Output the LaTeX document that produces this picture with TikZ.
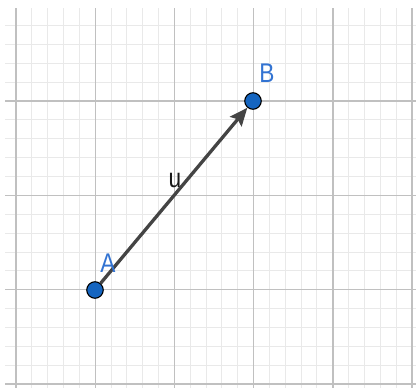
\documentclass[tikz,border=0pt]{standalone}
\usepackage{fontspec}
\setmainfont{Liberation Sans}
\usetikzlibrary{arrows.meta}
\definecolor{ptblue}{RGB}{21,101,192}
\definecolor{lblblue}{RGB}{50,115,210}
\definecolor{majorc}{RGB}{192,192,192}
\definecolor{minorc}{RGB}{233,233,233}
\definecolor{vecc}{RGB}{68,68,68}
\newcommand\sqz[1]{\scalebox{0.84}[1]{#1}}
\tikzset{
  minorline/.style={draw=minorc, line width=1pt},
  majorline/.style={draw=majorc, line width=1.4pt},
  ptnode/.style={circle, fill=ptblue, draw=black, line width=1.1pt, minimum size=16.5pt, inner sep=0pt},
  lbl/.style={text=lblblue, font=\fontsize{27}{27}\selectfont, inner sep=0pt},
  vlbl/.style={text=black!90, font=\fontsize{27}{27}\selectfont, inner sep=0pt},
  vecline/.style={draw=vecc, line width=3.3pt, -{Stealth[length=18pt,width=15pt,inset=3pt]}}
}
\begin{document}
\begin{tikzpicture}[x=1pt,y=-1pt]
\useasboundingbox (0,0) rectangle (416,388);
\fill[white] (0,0) rectangle (416,388);
\begin{scope}
  \clip (5,8) rectangle (416,388);
  \foreach \i in {0,...,26} \draw[minorline] ({16+15.84*\i},0) -- ({16+15.84*\i},388);
  \foreach \j in {0,...,21} \draw[minorline] (0,{6.7+18.87*\j}) -- (416,{6.7+18.87*\j});
  \foreach \i in {0,...,5} \draw[majorline] ({16+79.2*\i},0) -- ({16+79.2*\i},388);
  \foreach \j in {0,...,4} \draw[majorline] (0,{6.7+94.33*\j}) -- (416,{6.7+94.33*\j});
\end{scope}
\node[ptnode] (A) at (95,290) {};
\node[ptnode] (B) at (253,101) {};
\draw[vecline] (A) -- (B);
\node[lbl] (la) at (108,263) {\sqz{A}};
\node[lbl] (lb) at (267,73) {\sqz{B}};
\node[vlbl] (lu) at (175,180) {\sqz{u}};
\end{tikzpicture}
\end{document}
